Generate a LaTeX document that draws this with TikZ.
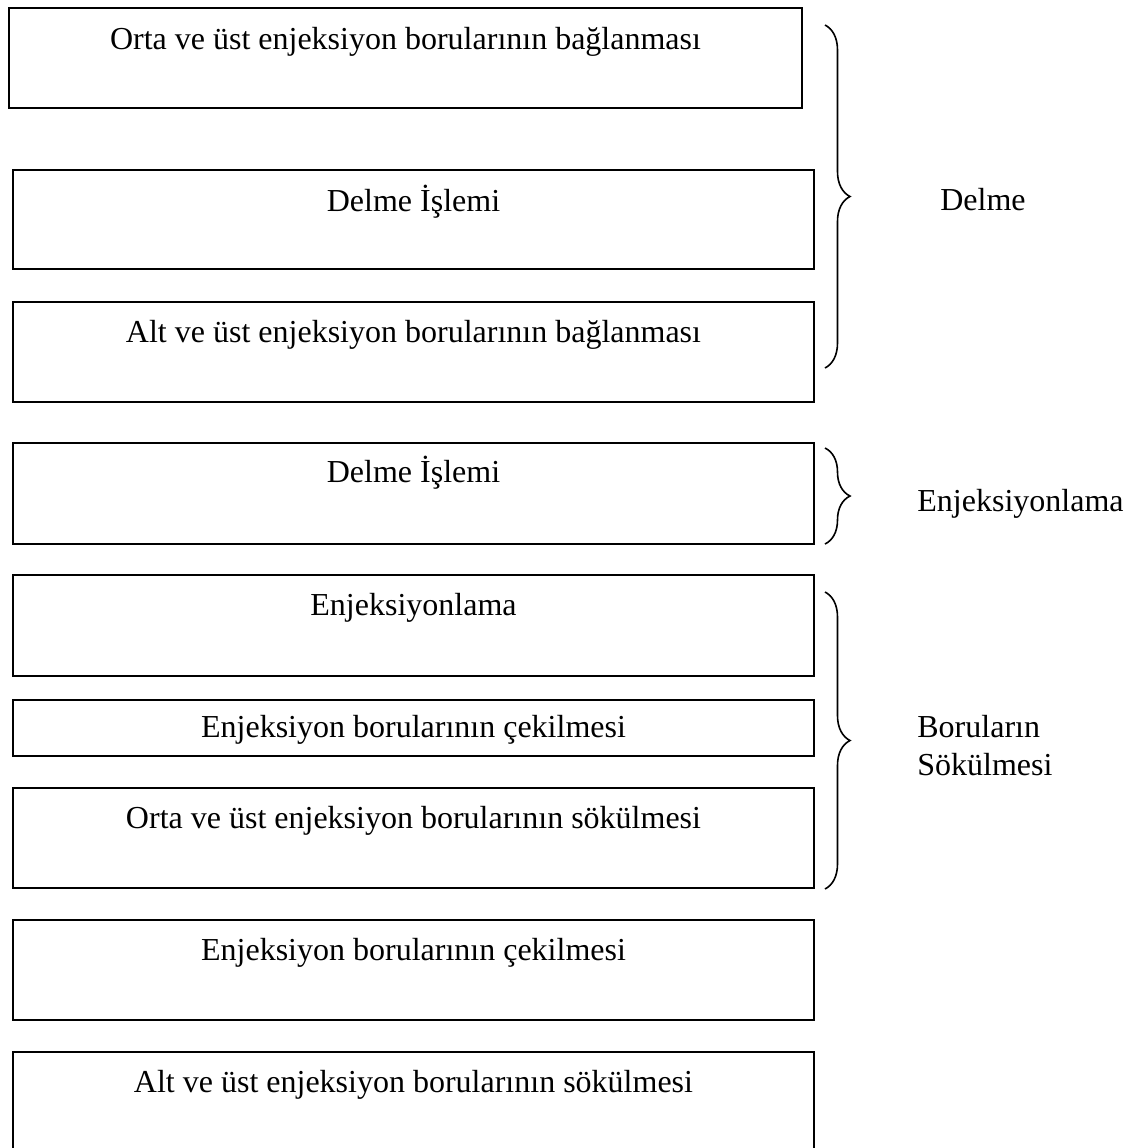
\documentclass[tikz,border=0pt]{standalone}
\usepackage{fontspec}
\setmainfont{Liberation Serif}
\usetikzlibrary{decorations.pathreplacing,calc,positioning}

\begin{document}
\begin{tikzpicture}[x=0.5pt,y=-0.5pt,
    box/.style={draw,line width=0.9pt,inner sep=0pt,
        minimum width=400.5pt,minimum height=50pt},
    txt/.style={anchor=base,inner sep=0pt,font=\fontsize{16}{19}\selectfont},
    grp/.style={decorate,decoration={brace,amplitude=12.5pt},line width=0.8pt},
    grplbl/.style={inner sep=0pt,font=\fontsize{16}{19}\selectfont,align=left}
  ]
  \clip (0,0) rectangle (1144,1148);
  % steps
  \node[box,minimum width=396.5pt] (b1) at (405.5,58) {};
  \node[box,minimum height=49.5pt] (b2) at (413.5,219.5) {};
  \node[box] (b3) at (413.5,352) {};
  \node[box,minimum height=50.5pt] (b4) at (413.5,493.5) {};
  \node[box,minimum height=50.5pt] (b5) at (413.5,625.5) {};
  \node[box,minimum height=28pt] (b6) at (413.5,728) {};
  \node[box] (b7) at (413.5,838) {};
  \node[box] (b8) at (413.5,970) {};
  \node[box] (b9) at (413.5,1102) {};

  \node[txt] (t1) at ([yshift=-21pt]b1.north) {Orta ve üst enjeksiyon borularının bağlanması};
  \node[txt] (t2) at ([yshift=-21pt]b2.north) {Delme İşlemi};
  \node[txt] (t3) at ([yshift=-20.5pt]b3.north) {Alt ve üst enjeksiyon borularının bağlanması};
  \node[txt] (t4) at ([yshift=-20pt]b4.north) {Delme İşlemi};
  \node[txt] (t5) at ([yshift=-20.5pt]b5.north) {Enjeksiyonlama};
  \node[txt] (t6) at ([yshift=-19pt]b6.north) {Enjeksiyon borularının çekilmesi};
  \node[txt] (t7) at ([yshift=-20.5pt]b7.north) {Orta ve üst enjeksiyon borularının sökülmesi};
  \node[txt] (t8) at ([yshift=-20.5pt]b8.north) {Enjeksiyon borularının çekilmesi};
  \node[txt] (t9) at ([yshift=-20.5pt]b9.north) {Alt ve üst enjeksiyon borularının sökülmesi};

  % groups
  \coordinate (g1a) at (825,25);  \coordinate (g1b) at (825,368);
  \coordinate (g2a) at (825,448); \coordinate (g2b) at (825,544);
  \coordinate (g3a) at (825,592); \coordinate (g3b) at (825,889);
  \draw[grp] (g1a) -- (g1b);
  \draw[grp] (g2a) -- (g2b);
  \draw[grp] (g3a) -- (g3b);

  \node[grplbl,anchor=base] (l1) at (983,210) {Delme};
  \node[grplbl,anchor=base west] (l2) at (917,511) {Enjeksiyonlama};
  \node[grplbl,anchor=base west] (l3) at (917,775) {Boruların\\Sökülmesi};
\end{tikzpicture}
\end{document}
